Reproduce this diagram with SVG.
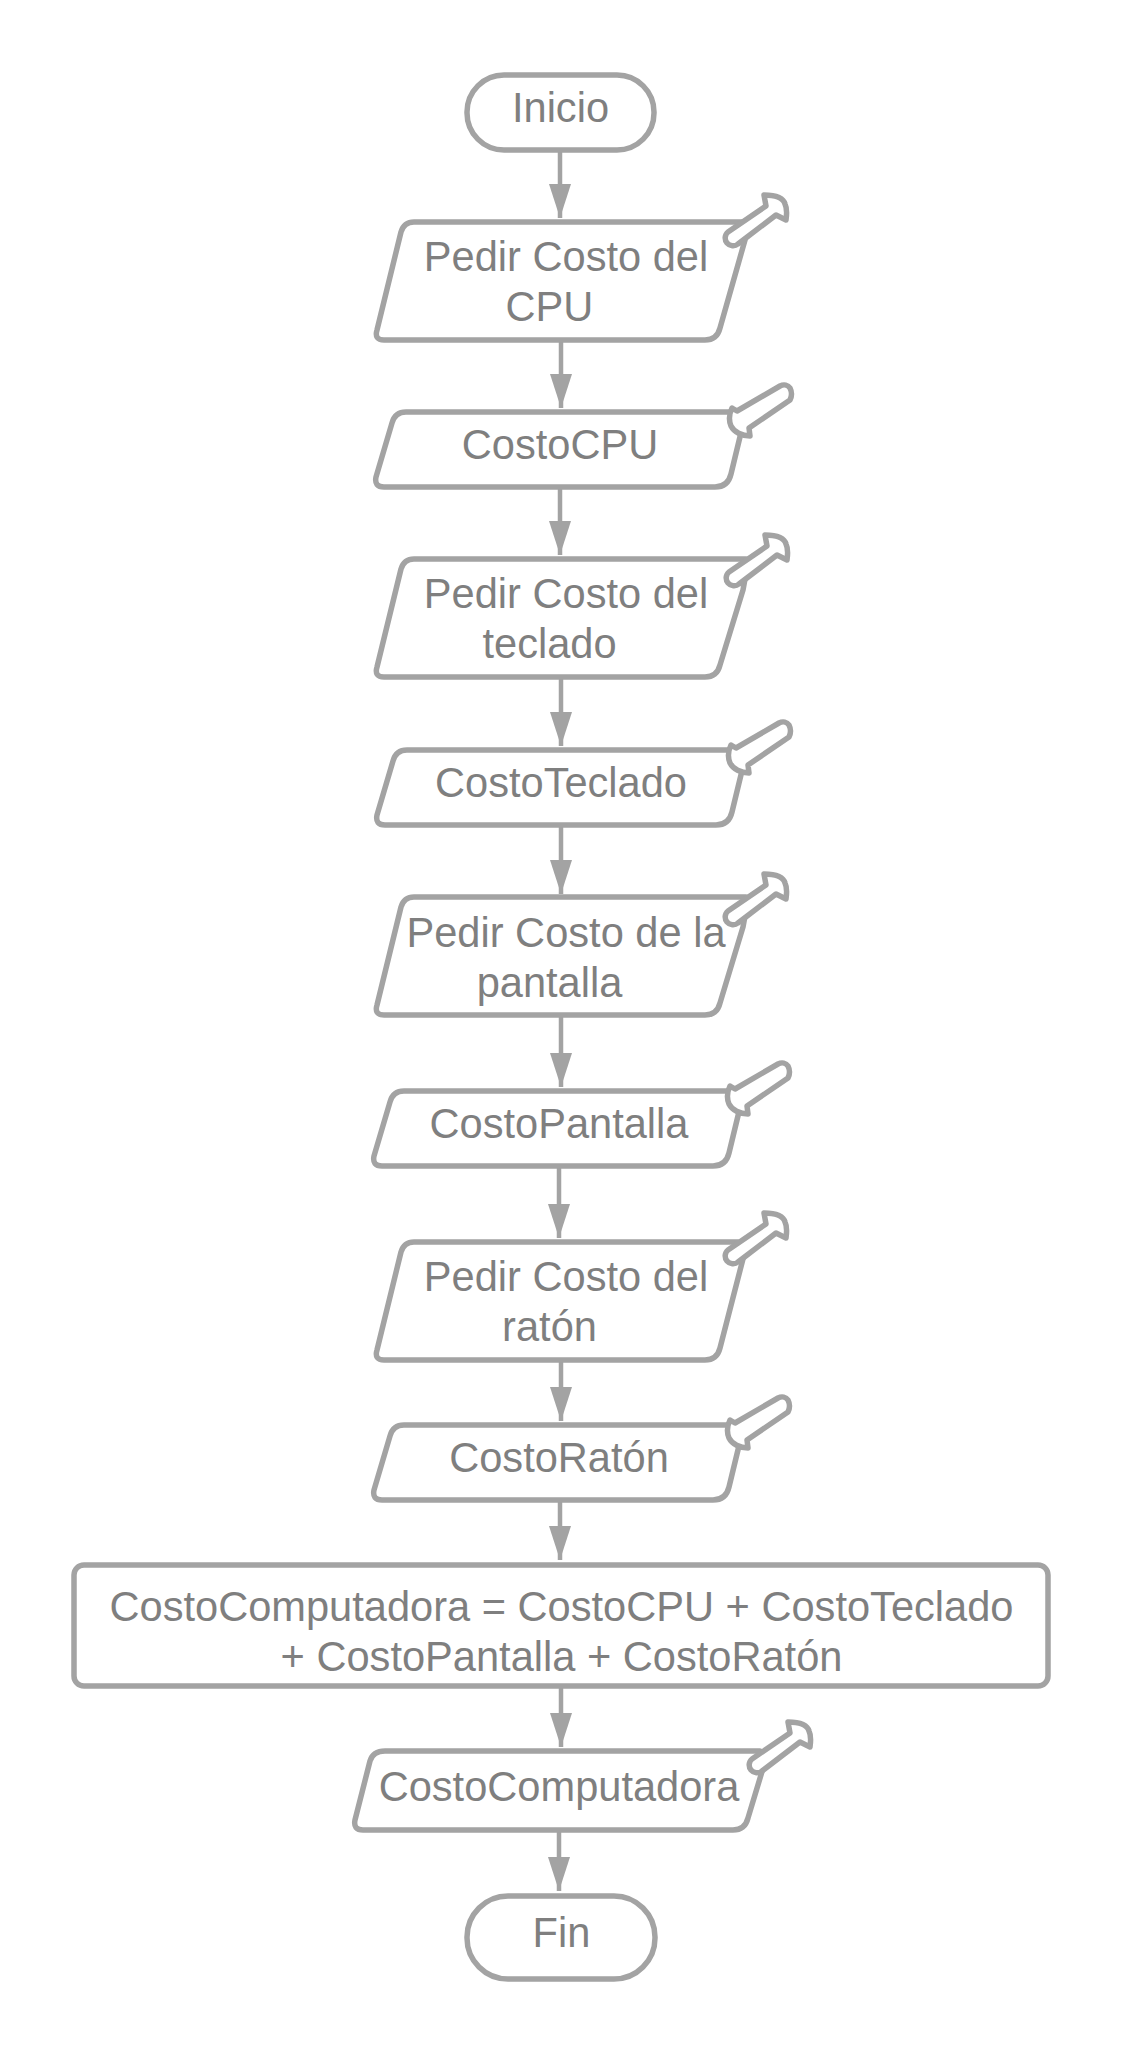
<svg xmlns="http://www.w3.org/2000/svg" width="1125" height="2055" viewBox="0 0 1125 2055">
<style>
.s{fill:#fff;stroke:#a3a3a3;stroke-width:5.5;stroke-linejoin:round}
.g{fill:#fff;stroke:#a3a3a3;stroke-width:5.5;stroke-linejoin:round;stroke-linecap:round}
.c{fill:none;stroke:#a3a3a3;stroke-width:4.5;marker-end:url(#a)}
text{font-family:"Liberation Sans",Arial,sans-serif;font-size:41.6px;fill:#7f7f7f;text-anchor:middle}
</style>
<defs>
<marker id="a" markerUnits="userSpaceOnUse" markerWidth="34" markerHeight="24" refX="34" refY="12" viewBox="0 0 34 24" orient="auto"><path d="M0 1L34 12L0 23Z" fill="#a3a3a3"/></marker>
<path id="pin" d="M-5-6L33-32L31-43C40-43 50-41 52-34C54-30 54-25 53-18L43-23L5 6A7.8 7.8 0 0 1-5-6Z"/>
<path id="pout" d="M5 3L48-22C52-24 56-23 58-20C60-16 60-12 58-8L17 20L18 28C10 28 2 24-1 18C-3 13-3 6 0 0Z"/>
</defs>
<rect width="1125" height="2055" fill="#fff"/>
<g id="connectors">
<path class="c" d="M560 152V218"/>
<path class="c" d="M561 340V408"/>
<path class="c" d="M560 487V555"/>
<path class="c" d="M561 677V746"/>
<path class="c" d="M561 825V894"/>
<path class="c" d="M561 1015V1087"/>
<path class="c" d="M559 1166V1238"/>
<path class="c" d="M561 1360V1421"/>
<path class="c" d="M560 1500V1560"/>
<path class="c" d="M561 1687V1747"/>
<path class="c" d="M559 1830V1891"/>
</g>
<g id="inicio"><rect class="s" x="467" y="75" width="187" height="75" rx="37"/><text x="560.5" y="122">Inicio</text></g>
<g id="in1"><path class="s" d="M414 222H742L745 240L720 328Q717 340 705 340H384Q374 340 377 330L401 232Q404 222 414 222Z"/><use href="#pin" class="g" x="733" y="238"/><text x="566" y="271">Pedir Costo del</text><text x="549.500" y="321">CPU</text></g>
<g id="out1"><path class="s" d="M406 412H746L731 474Q728 487 715 487H384Q374 487 376 477L392 423Q395 412 406 412Z"/><use href="#pout" class="g" x="732" y="408"/><text x="560" y="459">CostoCPU</text></g>
<g id="in2"><path class="s" d="M414 559H746L747 568L743 590L720 665Q717 677 705 677H384Q374 677 377 667L401 569Q404 559 414 559Z"/><use href="#pin" class="g" x="734" y="578"/><text x="566" y="608">Pedir Costo del</text><text x="549.500" y="658">teclado</text></g>
<g id="out2"><path class="s" d="M407 750H747L732 812Q729 825 716 825H385Q375 825 377 815L393 761Q396 750 407 750Z"/><use href="#pout" class="g" x="731" y="745"/><text x="561" y="797">CostoTeclado</text></g>
<g id="in3"><path class="s" d="M414 897H746L747 905L743 927L720 1003Q717 1015 705 1015H384Q374 1015 377 1005L401 907Q404 897 414 897Z"/><use href="#pin" class="g" x="733" y="917"/><text x="566" y="947">Pedir Costo de la</text><text x="549.500" y="997">pantalla</text></g>
<g id="out3"><path class="s" d="M404 1091H744L729 1153Q726 1166 713 1166H382Q372 1166 374 1156L390 1102Q393 1091 404 1091Z"/><use href="#pout" class="g" x="730" y="1086"/><text x="559" y="1138">CostoPantalla</text></g>
<g id="in4"><path class="s" d="M414 1242H738L744 1255L720 1348Q717 1360 705 1360H384Q374 1360 377 1350L401 1252Q404 1242 414 1242Z"/><use href="#pin" class="g" x="733" y="1256"/><text x="566" y="1291">Pedir Costo del</text><text x="549.500" y="1341">ratón</text></g>
<g id="out4"><path class="s" d="M404 1425H744L729 1487Q726 1500 713 1500H382Q372 1500 374 1490L390 1436Q393 1425 404 1425Z"/><use href="#pout" class="g" x="730" y="1420"/><text x="559" y="1472">CostoRatón</text></g>
<g id="proc"><rect class="s" x="74" y="1565" width="974" height="121" rx="10"/><text x="561.500" y="1621">CostoComputadora = CostoCPU + CostoTeclado</text><text x="561.500" y="1671">+ CostoPantalla + CostoRatón</text></g>
<g id="out5"><path class="s" d="M385 1751H760L764 1765L748 1818Q745 1830 733 1830H363Q353 1830 355 1820L370 1761Q373 1751 385 1751Z"/><use href="#pin" class="g" x="757" y="1765"/><text x="559" y="1801">CostoComputadora</text></g>
<g id="fin"><rect class="s" x="467" y="1896" width="188" height="83" rx="41"/><text x="561.500" y="1947">Fin</text></g>
</svg>
